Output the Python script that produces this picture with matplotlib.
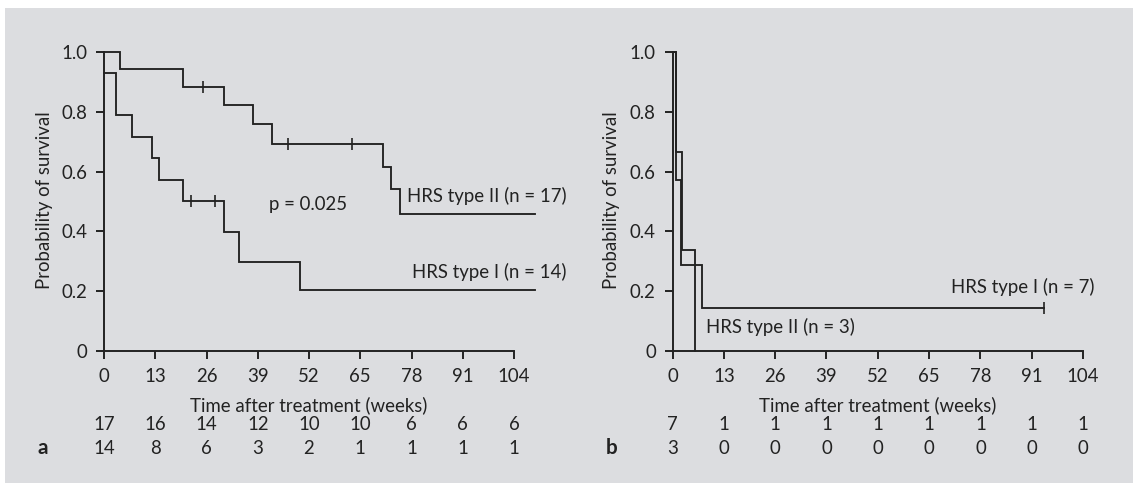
import matplotlib
matplotlib.use("Agg")
import matplotlib.pyplot as plt
from matplotlib.patches import Rectangle

plt.rcParams['font.family'] = ['Lato', 'DejaVu Sans']

INK = '#222222'
BG = '#dcdde0'
FS = 13.4

# ---- Panel a: Kaplan-Meier estimates, survival after treatment ----
a_t2_times = [0, 4.0, 20.0, 30.5, 37.7, 42.6, 70.7, 72.8, 75.0]
a_t2_surv = [1.0, 0.945, 0.883, 0.822, 0.758, 0.693, 0.614, 0.541, 0.457]
a_t2_end = 109.3
a_t2_cens_t = [25.1, 46.7, 62.8]
a_t2_cens_s = [0.883, 0.693, 0.693]

a_t1_times = [0, 3.0, 7.0, 12.2, 14.0, 20.0, 30.5, 34.2, 49.8]
a_t1_surv = [0.93, 0.79, 0.716, 0.645, 0.573, 0.50, 0.398, 0.298, 0.205]
a_t1_end = 109.2
a_t1_cens_t = [22.0, 28.1]
a_t1_cens_s = [0.50, 0.50]

a_risk_t2 = [17, 16, 14, 12, 10, 10, 6, 6, 6]
a_risk_t1 = [14, 8, 6, 3, 2, 1, 1, 1, 1]

# ---- Panel b ----
b_t1_times = [0, 0.85, 2.05, 7.6]
b_t1_surv = [1.0, 0.571, 0.286, 0.143]
b_t1_end = 94.0
b_t1_cens_t = [94.0]
b_t1_cens_s = [0.143]

b_t2_times = [0, 0.85, 2.35, 5.6]
b_t2_surv = [1.0, 0.667, 0.336, 0.0]
b_t2_end = 5.6

b_risk_t1 = [7, 1, 1, 1, 1, 1, 1, 1, 1]
b_risk_t2 = [3, 0, 0, 0, 0, 0, 0, 0, 0]

xticks = [0, 13, 26, 39, 52, 65, 78, 91, 104]
yticks = [0, 0.2, 0.4, 0.6, 0.8, 1.0]
yticklabels = ['0', '0.2', '0.4', '0.6', '0.8', '1.0']

XLABEL = 'Time after treatment (weeks)'
YLABEL = 'Probability of survival'

W, H = 1133, 483
fig = plt.figure(figsize=(W / 100, H / 100), dpi=100)
fig.patch.set_facecolor('white')
fig.patches.append(Rectangle((5 / W, 0), 1 - 5 / W, (H - 8) / H,
                             transform=fig.transFigure, facecolor=BG,
                             edgecolor='none', zorder=-10))


def km(ax, times, surv, end):
    xs = list(times) + [end]
    ys = list(surv) + [surv[-1]]
    ax.step(xs, ys, where='post', color=INK, lw=1.35, clip_on=False,
            solid_joinstyle='miter')


def cens(ax, t, s):
    ax.plot(t, s, linestyle='none', marker='|', markersize=8.5,
            markeredgewidth=1.2, color=INK, clip_on=False)


def setup(ax, ylabel_x):
    ax.set_facecolor('none')
    ax.set_xlim(0, 104)
    ax.set_ylim(0, 1.0)
    for s in ('top', 'right'):
        ax.spines[s].set_visible(False)
    for s in ('left', 'bottom'):
        ax.spines[s].set_color(INK)
        ax.spines[s].set_linewidth(1.4)
    ax.set_xticks(xticks)
    ax.set_xticklabels([str(v) for v in xticks])
    ax.set_yticks(yticks)
    ax.set_yticklabels(yticklabels)
    ax.tick_params(axis='both', direction='out', length=6, width=1.4,
                   color=INK, labelcolor=INK, labelsize=FS)
    ax.tick_params(axis='x', pad=6.5)
    ax.tick_params(axis='y', pad=6)
    # axis titles placed at fixed figure positions
    ax.text(52, -0.183, XLABEL, transform=ax.get_xaxis_transform(),
            ha='center', va='center', fontsize=FS, color=INK, clip_on=False)
    fig.text(ylabel_x / W, 1 - 200 / H, YLABEL, rotation=90, ha='center',
             va='center', fontsize=FS, color=INK)


def risk_table(ax, row1, row2, letter, x_letter):
    tr = ax.get_xaxis_transform()
    for xv, n1, n2 in zip(xticks, row1, row2):
        ax.text(xv, -0.248, str(n1), transform=tr, ha='center', va='center',
                fontsize=FS, color=INK, clip_on=False)
        ax.text(xv, -0.328, str(n2), transform=tr, ha='center', va='center',
                fontsize=FS, color=INK, clip_on=False)
    fig.text(x_letter / W, 1 - 448 / H, letter, ha='center', va='center',
             fontsize=FS + 1.5, fontweight='bold', color=INK)


# panel a
axa = fig.add_axes([104 / W, (H - 350.7) / H, 410 / W, 298.5 / H])
setup(axa, 45)
km(axa, a_t2_times, a_t2_surv, a_t2_end)
km(axa, a_t1_times, a_t1_surv, a_t1_end)
cens(axa, a_t2_cens_t, a_t2_cens_s)
cens(axa, a_t1_cens_t, a_t1_cens_s)
axa.text(117.4, 0.518, 'HRS type II (n = 17)', ha='right', va='center',
         fontsize=FS, color=INK, clip_on=False)
axa.text(117.2, 0.265, 'HRS type I (n = 14)', ha='right', va='center',
         fontsize=FS, color=INK, clip_on=False)
axa.text(41.9, 0.491, 'p = 0.025', ha='left', va='center',
         fontsize=FS, color=INK, clip_on=False)
risk_table(axa, a_risk_t2, a_risk_t1, 'a', 42.5)

# panel b
axb = fig.add_axes([672.5 / W, (H - 350.7) / H, 410.5 / W, 298.5 / H])
setup(axb, 611)
km(axb, b_t2_times, b_t2_surv, b_t2_end)
km(axb, b_t1_times, b_t1_surv, b_t1_end)
cens(axb, b_t1_cens_t, b_t1_cens_s)
axb.text(106.9, 0.212, 'HRS type I (n = 7)', ha='right', va='center',
         fontsize=FS, color=INK, clip_on=False)
axb.text(8.6, 0.078, 'HRS type II (n = 3)', ha='left', va='center',
         fontsize=FS, color=INK, clip_on=False)
risk_table(axb, b_risk_t1, b_risk_t2, 'b', 612)

fig.savefig('out.png', dpi=100, facecolor=fig.get_facecolor())
